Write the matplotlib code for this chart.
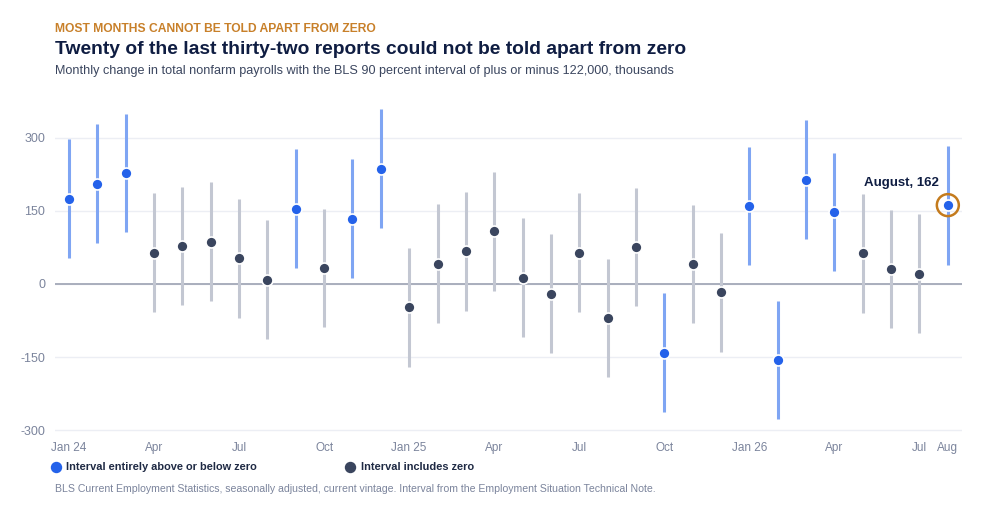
import numpy as np
import matplotlib.pyplot as plt
from matplotlib.lines import Line2D

plt.rcParams['font.family'] = ['Liberation Sans', 'DejaVu Sans']

# monthly change in nonfarm payrolls, thousands, Jan 2024 .. Aug 2026
values = [175, 206, 228, 64, 78, 87, 53, 9, 155, 33, 134, 237,
          -48, 42, 67, 108, 13, -20, 64, -70, 76, -141, 41, -17,
          160, -156, 214, 148, 63, 31, 21, 162]
half_width = 122
tick_pos = [0, 3, 6, 9, 12, 15, 18, 21, 24, 27, 30, 31]
tick_labels = ['Jan 24', 'Apr', 'Jul', 'Oct', 'Jan 25', 'Apr', 'Jul', 'Oct',
               'Jan 26', 'Apr', 'Jul', 'Aug']
y_ticks = [-300, -150, 0, 150, 300]

blue = '#2462ea'
blue_line = '#7fa5f3'
dark = '#3a455e'
gray_line = '#c3c7d2'
muted = '#7b849c'
navy = '#0f1d42'

fig = plt.figure(figsize=(10, 5.17), dpi=100)
ax = fig.add_axes([0.0548, 0.1588, 0.9072, 0.6497])

x = np.arange(len(values))
v = np.array(values)
sig = (v - half_width > 0) | (v + half_width < 0)

ax.axhline(0, color='#a3a9b8', lw=1.3, zorder=1)
for i in range(len(v)):
    lc = blue_line if sig[i] else gray_line
    ax.plot([x[i], x[i]], [v[i] - half_width, v[i] + half_width], color=lc,
            lw=2.2, solid_capstyle='butt', zorder=2)
ax.scatter(x[sig], v[sig], s=62, color=blue, edgecolor='white', lw=1.2, zorder=3)
ax.scatter(x[~sig], v[~sig], s=62, color=dark, edgecolor='white', lw=1.2, zorder=3)

# highlight latest month
ax.scatter([x[-1]], [v[-1]], s=250, facecolor='none', edgecolor='#c47b1d', lw=1.8, zorder=4)
ax.text(x[-1] - 0.3, v[-1] + 46, 'August, 162', ha='right', va='center',
        fontsize=9.5, fontweight='bold', color=navy)

ax.set_xlim(-0.5, len(v) - 0.5)
ax.set_ylim(-310, 380)
ax.set_yticks(y_ticks)
ax.set_yticklabels([str(t) for t in y_ticks])
ax.set_xticks(tick_pos)
ax.set_xticklabels(tick_labels)
ax.grid(axis='y', color='#eceef4', lw=1)
ax.set_axisbelow(True)
for s in ax.spines.values():
    s.set_visible(False)
ax.tick_params(length=0, labelsize=8.5, labelcolor=muted)
ax.tick_params(axis='y', pad=7, labelsize=9)
ax.tick_params(axis='x', pad=5)

fig.text(0.055, 0.944, 'MOST MONTHS CANNOT BE TOLD APART FROM ZERO', fontsize=8.7,
         fontweight='bold', color='#c8802a', va='center')
fig.text(0.055, 0.905, 'Twenty of the last thirty-two reports could not be told apart from zero',
         fontsize=13.9, fontweight='bold', color=navy, va='center')
fig.text(0.055, 0.863, 'Monthly change in total nonfarm payrolls with the BLS 90 percent interval of plus or minus 122,000, thousands',
         fontsize=9.1, color='#3b465f', va='center')

# legend
fig.add_artist(Line2D([0.0555], [0.097], marker='o', color=blue, ms=7.2, ls='none'))
fig.text(0.066, 0.097, 'Interval entirely above or below zero', fontsize=7.9,
         fontweight='bold', color='#1f2a44', va='center')
fig.add_artist(Line2D([0.350], [0.097], marker='o', color=dark, ms=7.2, ls='none'))
fig.text(0.361, 0.097, 'Interval includes zero', fontsize=7.9,
         fontweight='bold', color='#1f2a44', va='center')

fig.text(0.055, 0.054, 'BLS Current Employment Statistics, seasonally adjusted, current vintage. Interval from the Employment Situation Technical Note.',
         fontsize=7.6, color=muted, va='center')

fig.savefig('out.png', dpi=100, facecolor='white')
